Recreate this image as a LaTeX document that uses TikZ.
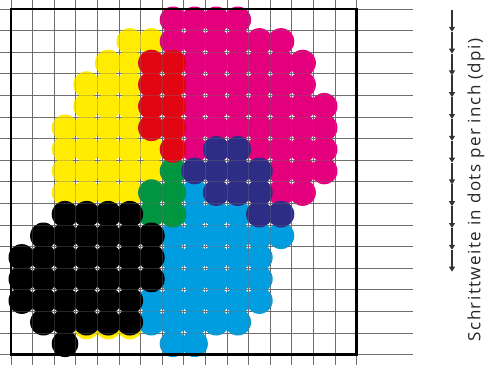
\documentclass[tikz,border=0pt]{standalone}
\usepackage{fontspec}
\setmainfont{Open Sans}
\newfontfamily\capfont[LetterSpace=8.5]{Open Sans}
\usetikzlibrary{arrows.meta}
\definecolor{ylw}{RGB}{255,236,0}
\definecolor{mag}{RGB}{228,0,125}
\definecolor{rd}{RGB}{226,6,19}
\definecolor{grn}{RGB}{0,150,64}
\definecolor{cyn}{RGB}{0,157,224}
\definecolor{nvy}{RGB}{46,45,134}
\definecolor{gridgray}{RGB}{110,110,110}

\begin{document}
\begin{tikzpicture}[
  x=1pt, y=-1pt,
  gridline/.style={gridgray, line width=1pt},
  frame/.style={black, line width=2.6pt},
  dot/.style={radius=13.3pt},
  pitch/.style={-{Triangle[length=5pt,width=6pt]}, line width=1.2pt, black!80},
  caption/.style={rotate=90, font=\capfont\fontsize{17}{20}\selectfont, text=black!85}
]
  \useasboundingbox (0,0) rectangle (487,365);

  % raster
  \foreach \k in {0,...,16} {
    \draw[gridline] (0,9+21.6*\k) -- (413,9+21.6*\k);
    \draw[gridline] (11+21.6*\k,0) -- (11+21.6*\k,365);
  }

  % dots, one colour separation after the other (row/first/last column)
  \begin{scope}[shift={(11,9)}, x=21.6pt, y=-21.6pt]
    \foreach \r/\a/\b in {1/5/6, 2/4/5, 3/3/5, 4/3/5, 5/2/5, 6/2/6, 7/2/6, 8/2/5}
      \foreach \c in {\a,...,\b} \fill[ylw] (\c+.5,\r+.5) circle[dot];
    \foreach \c in {3,4,5} \fill[ylw] (\c+.5,14.68) circle[dot];
    \foreach \r/\a/\b in {0/7/10, 1/7/12, 2/8/13, 3/8/13, 4/8/14, 5/8/14, 6/8/14, 7/12/14, 8/12/13}
      \foreach \c in {\a,...,\b} \fill[mag] (\c+.5,\r+.5) circle[dot];
    \foreach \r/\a/\b in {8/8/8, 9/8/10, 10/7/12, 11/7/11, 12/7/11, 13/6/11, 14/6/10, 15/7/8}
      \foreach \c in {\a,...,\b} \fill[cyn] (\c+.5,\r+.5) circle[dot];
    \foreach \r/\a/\b in {7/7/7, 8/6/7, 9/6/7}
      \foreach \c in {\a,...,\b} \fill[grn] (\c+.5,\r+.5) circle[dot];
    \foreach \r/\a/\b in {2/6/7, 3/6/7, 4/6/7, 5/6/7, 6/7/7}
      \foreach \c in {\a,...,\b} \fill[rd] (\c+.5,\r+.5) circle[dot];
    \foreach \r/\a/\b in {6/9/10, 7/8/11, 8/9/11, 9/11/12}
      \foreach \c in {\a,...,\b} \fill[nvy] (\c+.5,\r+.5) circle[dot];
    \foreach \r/\a/\b in {9/2/5, 10/1/6, 11/0/6, 12/0/6, 13/0/5, 14/1/5, 15/2/2}
      \foreach \c in {\a,...,\b} \fill[black] (\c+.5,\r+.5) circle[dot];
  \end{scope}

  % raster shows through the dots
  \foreach \k in {0,...,16} {
    \draw[gridline, opacity=.35] (0,9+21.6*\k) -- (413,9+21.6*\k);
    \draw[gridline, opacity=.35] (11+21.6*\k,0) -- (11+21.6*\k,365);
  }
  \draw[frame] (11,9) rectangle (356.6,354.6);

  % pitch arrows
  \foreach \i in {0,...,12}
    \coordinate (p\i) at (452,10+21.8*\i);
  \foreach \i [count=\j] in {0,...,11}
    \draw[pitch] (p\i) -- (p\j);

  \node[caption] (label) at (476,190) {Schrittweite in dots per inch (dpi)};
\end{tikzpicture}
\end{document}
